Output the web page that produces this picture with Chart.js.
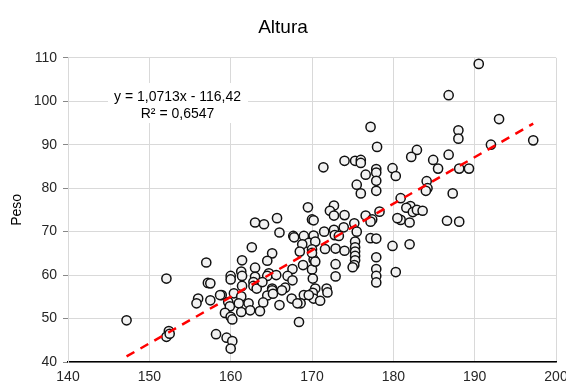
<!DOCTYPE html>
<html>
<head>
<meta charset="utf-8">
<script src="https://cdn.jsdelivr.net/npm/chart.js@4.4.1/dist/chart.umd.min.js"></script>
<style>
  html, body { margin: 0; padding: 0; background: #fff; }
</style>
</head>
<body>
<canvas id="chart" width="566" height="384"></canvas>
<script>
// heights (cm) and weights (kg)
const altura = [
  190.5, 186.8, 193.0, 197.2, 188.0, 188.0, 192.0, 182.9, 182.2, 184.9,
  186.8, 185.5, 188.1, 189.3, 184.1, 184.2, 184.0, 187.3, 180.9, 182.1,
  181.6, 182.4, 182.9, 183.6, 180.9, 182.0, 186.6, 188.1, 182.0, 177.2,
  178.0, 171.4, 174.0, 175.3, 176.0, 176.0, 177.9, 179.9, 176.6, 177.9,
  177.9, 180.3, 175.5, 176.0, 177.9, 169.5, 172.7, 172.2, 172.7, 174.0,
  170.0, 170.2, 176.6, 177.4, 177.2, 178.3, 180.5, 175.2, 173.9, 175.5,
  171.5, 172.7, 172.8, 173.3, 169.0, 170.2, 169.6, 170.4, 168.8, 175.3,
  177.2, 177.9, 179.9, 170.0, 171.6, 172.9, 174.0, 175.3, 175.3, 175.3,
  170.2, 177.9, 175.3, 175.2, 175.0, 172.9, 170.0, 177.9, 177.9, 177.9,
  180.3, 172.9, 170.1, 170.4, 171.8, 171.9, 170.1, 169.0, 170.2, 171.0,
  168.6, 168.4, 163.0, 164.1, 165.7, 166.0, 167.7, 167.8, 162.6, 165.1,
  168.5, 170.0, 164.5, 161.4, 157.0, 168.9, 170.4, 167.6, 161.3, 160.0,
  160.0, 161.4, 163.0, 163.0, 164.7, 164.5, 165.6, 167.0, 167.6, 162.8,
  162.8, 161.4, 165.1, 166.7, 157.2, 163.2, 163.9, 165.1, 164.5, 165.2,
  166.3, 167.5, 168.2, 169.6, 157.5, 158.9, 160.4, 161.3, 159.7, 159.9,
  161.0, 162.2, 164.0, 162.4, 163.6, 166.0, 159.3, 160.0, 160.2, 161.3,
  158.2, 159.5, 160.2, 160.0, 152.1, 156.0, 155.8, 158.7, 147.2, 152.4,
  152.1, 152.5, 157.5
];
const peso = [
  108.6, 101.4, 95.9, 91.0, 93.3, 91.4, 90.0, 88.8, 87.2, 86.5,
  87.7, 84.5, 84.5, 84.5, 81.6, 80.0, 79.4, 78.8, 77.7, 75.9,
  75.5, 74.5, 75.0, 74.8, 72.7, 72.1, 72.5, 72.3, 67.1, 94.1,
  89.5, 84.8, 86.3, 86.3, 86.5, 85.8, 84.4, 84.6, 83.1, 83.6,
  81.7, 82.8, 80.8, 78.8, 79.4, 75.6, 76.0, 74.8, 73.7, 73.8,
  72.8, 72.6, 73.7, 72.8, 72.3, 74.6, 73.1, 71.9, 71.0, 70.0,
  70.0, 70.4, 69.2, 69.0, 69.0, 69.1, 67.4, 67.7, 67.1, 67.7,
  68.5, 68.4, 66.7, 65.9, 66.0, 66.1, 65.6, 66.4, 65.4, 64.4,
  63.6, 64.1, 63.4, 62.3, 61.8, 62.5, 61.3, 61.4, 59.8, 58.3,
  60.7, 59.7, 59.2, 56.9, 56.9, 56.0, 55.9, 55.4, 54.6, 54.1,
  53.5, 49.2, 72.1, 71.7, 73.1, 69.8, 69.0, 68.7, 66.4, 65.0,
  65.4, 65.1, 63.3, 63.4, 62.9, 62.3, 63.1, 61.4, 60.8, 59.8,
  59.0, 59.8, 61.7, 59.6, 60.4, 59.8, 60.0, 59.8, 58.8, 58.4,
  57.5, 57.5, 56.9, 57.1, 58.2, 56.9, 58.4, 56.5, 55.3, 55.7,
  56.5, 54.6, 53.5, 55.4, 54.2, 55.4, 55.8, 55.1, 53.8, 52.8,
  53.5, 53.5, 53.7, 51.9, 51.7, 53.1, 51.3, 50.4, 49.8, 51.5,
  46.4, 45.6, 44.8, 43.1, 59.2, 54.6, 53.5, 55.4, 49.6, 47.1,
  45.8, 46.5, 58.1
];
const xTicks = [140, 150, 160, 170, 180, 190, 200];
const yTicks = [40, 50, 60, 70, 80, 90, 100, 110];
const slope = 1.0713;
const intercept = -116.42;
const r2 = 0.6547;

const fmt = (v, d) => v.toFixed(d).replace(".", ",");
const points = altura.map((a, i) => ({ x: a, y: peso[i] }));
const xMin = Math.min(...altura), xMax = Math.max(...altura);
const trend = [xMin, xMax].map(x => ({ x: x, y: slope * x + intercept }));

const FONT = "'Liberation Sans', Arial, sans-serif";

// equation box drawn over the grid
const equationLabel = {
  id: "equationLabel",
  afterDatasetsDraw(chart) {
    const ctx = chart.ctx;
    const cx = 177.5, y1 = 97, y2 = 114;
    ctx.save();
    ctx.fillStyle = "#fff";
    ctx.fillRect(108, 83, 140, 40);
    ctx.font = "14px " + FONT;
    ctx.fillStyle = "#000";
    ctx.textAlign = "center";
    ctx.textBaseline = "middle";
    ctx.fillText("y = " + fmt(slope, 4) + "x - " + fmt(-intercept, 2), cx, y1);
    ctx.fillText("R² = " + fmt(r2, 4), cx, y2);
    ctx.restore();
  }
};

new Chart(document.getElementById("chart"), {
  type: "scatter",
  data: {
    datasets: [
      {
        type: "line",
        data: trend,
        borderColor: "#ff0000",
        borderWidth: 2.5,
        borderDash: [9, 7],
        pointRadius: 0,
        fill: false,
        order: 0
      },
      {
        data: points,
        pointRadius: 4.6,
        pointBorderWidth: 1.5,
        pointBackgroundColor: "#f2f2f2",
        pointBorderColor: "#111",
        order: 1
      }
    ]
  },
  options: {
    responsive: false,
    animation: false,
    layout: { padding: 0 },
    plugins: {
      legend: { display: false },
      tooltip: { enabled: false },
      title: {
        display: true,
        text: "Altura",
        color: "#000",
        font: { family: FONT, size: 19, weight: "normal" },
        padding: { top: 16, bottom: 19 }
      }
    },
    scales: {
      x: {
        type: "linear",
        min: xTicks[0],
        max: xTicks[xTicks.length - 1],
        afterBuildTicks: s => { s.ticks = xTicks.map(v => ({ value: v })); },
        ticks: { color: "#262626", font: { family: FONT, size: 14 }, padding: 7, maxRotation: 0 },
        grid: { color: "#d9d9d9", lineWidth: 1, drawTicks: false },
        border: { color: "#000", width: 1.5 },
        afterFit: s => { s.height = 22; s.paddingLeft = 0; s.paddingRight = 10; }
      },
      y: {
        min: yTicks[0],
        max: yTicks[yTicks.length - 1],
        afterBuildTicks: s => { s.ticks = yTicks.map(v => ({ value: v })); },
        ticks: { color: "#262626", font: { family: FONT, size: 14 }, padding: 6 },
        grid: { color: "#d9d9d9", lineWidth: 1, tickLength: 5, tickColor: "#888" },
        border: { color: "#d9d9d9", width: 1 },
        title: {
          display: true,
          text: "Peso",
          color: "#000",
          font: { family: FONT, size: 14 },
          padding: { top: 9, bottom: 0 }
        },
        afterFit: s => { s.width = 68; }
      }
    }
  },
  plugins: [equationLabel]
});
</script>
</body>
</html>
